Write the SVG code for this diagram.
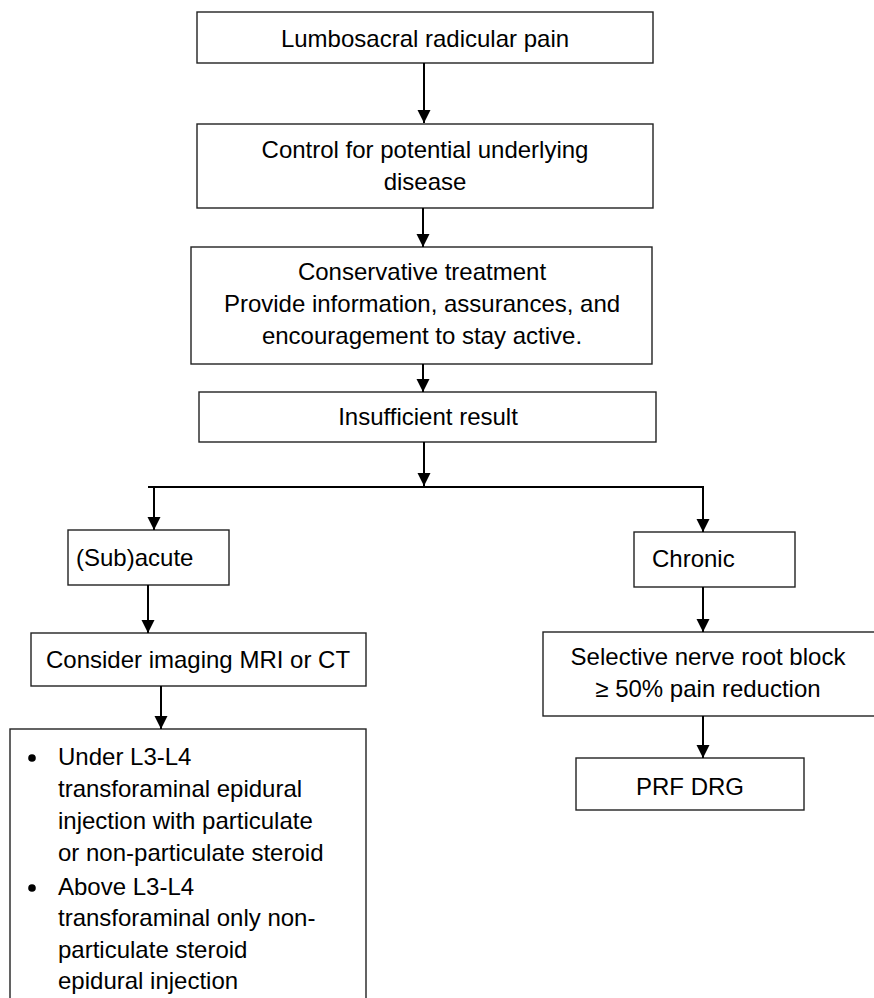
<svg xmlns="http://www.w3.org/2000/svg" width="874" height="998" viewBox="0 0 874 998">
<style>
.box{fill:#fff;stroke:#222;stroke-width:1.4}
.t{font-family:"Liberation Sans",Arial,sans-serif;font-size:24px;fill:#000}
.c{text-anchor:middle}
.ln{stroke:#000;stroke-width:2;fill:none}
</style>
<defs>
<marker id="ah" markerUnits="userSpaceOnUse" markerWidth="13" markerHeight="14" refX="13" refY="6.5" orient="auto">
<path d="M0,0 L13,6.5 L0,13 z" fill="#000"/>
</marker>
</defs>
<rect width="874" height="998" fill="#fff"/>
<g id="n1"><rect class="box" x="197" y="12" width="456" height="51"/><text class="t c" x="425" y="47">Lumbosacral radicular pain</text></g>
<g id="n2"><rect class="box" x="197" y="124" width="456" height="84"/><text class="t c" x="425" y="158">Control for potential underlying</text><text class="t c" x="425" y="190">disease</text></g>
<g id="n3"><rect class="box" x="191" y="247" width="461" height="117"/><text class="t c" x="422" y="280">Conservative treatment</text><text class="t c" x="422" y="312">Provide information, assurances, and</text><text class="t c" x="422" y="344">encouragement to stay active.</text></g>
<g id="n4"><rect class="box" x="199" y="392" width="457" height="50"/><text class="t c" x="428" y="425">Insufficient result</text></g>
<g id="n5"><rect class="box" x="68" y="530" width="161" height="55"/><text class="t" x="76" y="566">(Sub)acute</text></g>
<g id="n6"><rect class="box" x="634" y="532" width="161" height="55"/><text class="t" x="652" y="567">Chronic</text></g>
<g id="n7"><rect class="box" x="31" y="633" width="335" height="53"/><text class="t c" x="198" y="668">Consider imaging MRI or CT</text></g>
<g id="n8"><rect class="box" x="543" y="632" width="340" height="84"/><text class="t c" x="708" y="665">Selective nerve root block</text><text class="t c" x="708" y="697">≥ 50% pain reduction</text></g>
<g id="n9"><rect class="box" x="576" y="758" width="228" height="52"/><text class="t c" x="690" y="795">PRF DRG</text></g>
<g id="n10"><rect class="box" x="10" y="729" width="356" height="280"/>
<circle cx="32" cy="758" r="3.8" fill="#000"/>
<circle cx="32" cy="888" r="3.8" fill="#000"/>
<text class="t" x="58" y="765">Under L3-L4</text>
<text class="t" x="58" y="797">transforaminal epidural</text>
<text class="t" x="58" y="829">injection with particulate</text>
<text class="t" x="58" y="861">or non-particulate steroid</text>
<text class="t" x="58" y="895">Above L3-L4</text>
<text class="t" x="58" y="926">transforaminal only non-</text>
<text class="t" x="58" y="958">particulate steroid</text>
<text class="t" x="58" y="989">epidural injection</text>
</g>
<g id="connectors">
<line class="ln" x1="424" y1="63" x2="424" y2="123" marker-end="url(#ah)"/>
<line class="ln" x1="423" y1="208" x2="423" y2="247" marker-end="url(#ah)"/>
<line class="ln" x1="423" y1="364" x2="423" y2="392" marker-end="url(#ah)"/>
<line class="ln" x1="424" y1="442" x2="424" y2="486" marker-end="url(#ah)"/>
<line class="ln" x1="148" y1="487" x2="704" y2="487"/>
<line class="ln" x1="154" y1="487" x2="154" y2="530" marker-end="url(#ah)"/>
<line class="ln" x1="703" y1="487" x2="703" y2="532" marker-end="url(#ah)"/>
<line class="ln" x1="148" y1="585" x2="148" y2="633" marker-end="url(#ah)"/>
<line class="ln" x1="161" y1="686" x2="161" y2="729" marker-end="url(#ah)"/>
<line class="ln" x1="703" y1="587" x2="703" y2="632" marker-end="url(#ah)"/>
<line class="ln" x1="703" y1="716" x2="703" y2="758" marker-end="url(#ah)"/>
</g>
</svg>
